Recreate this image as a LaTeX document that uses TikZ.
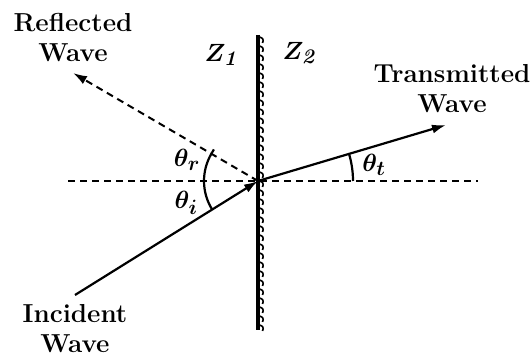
\documentclass[tikz,border=0pt]{standalone}
\usepackage{amsmath,bm}
\usetikzlibrary{arrows.meta}
\begin{document}
\begin{tikzpicture}[x=1pt,y=1pt,
  lbl/.style={font=\fontsize{26}{30}\selectfont\bfseries, align=center, inner sep=0pt},
  mlbl/.style={font=\fontsize{28}{32}\selectfont\boldmath, inner sep=0pt},
  ray/.style={line width=2.2pt, -{Latex[length=14pt,width=9pt]}},
  dray/.style={line width=2pt, dash pattern=on 7pt off 5pt},
  anglearc/.style={line width=2.2pt}]
\useasboundingbox (0,0) rectangle (532,358);
% key points
\coordinate (O) at (258,177);
\coordinate (wt) at (258,323);
\coordinate (wb) at (258,28);
\coordinate (hl) at (68,177);
\coordinate (hr) at (478,177);
\coordinate (inc) at (75,63);
\coordinate (refl) at (73,285);
\coordinate (trans) at (446,233);
% horizontal dashed normal
\draw[dray] (hl) -- (hr);
% wall
\draw[line width=3.5pt] (wt) -- (wb);
\foreach \y in {321,312,...,32} {
  \draw[line width=1.6pt] (259.5,\y) .. controls (263,\y-1) and (264,\y-3) .. (262.5,\y-6);
}
% rays
\draw[ray] (inc) -- (O);
\draw[ray, dray] (O) -- (refl);
\draw[ray] (O) -- (trans);
% angle arcs
\draw[anglearc] ([shift={(149.7:54)}]O) arc[start angle=149.7, end angle=211.9, radius=54];
\draw[anglearc] ([shift={(149.7:54)}]O) -- ++(59.7:5) ;
\draw[anglearc] ([shift={(0:95)}]O) arc[start angle=0, end angle=16.6, radius=95];
% angle labels
\node[mlbl] (tr) at (187,198) {$\theta_r$};
\node[mlbl] (ti) at (186,155) {$\theta_i$};
\node[mlbl] (tt) at (374,193) {$\theta_t$};
\node[mlbl] (z1) at (222,303) {$Z_{\mathit{1}}$};
\node[mlbl] (z2) at (300,305) {$Z_{\mathit{2}}$};
% text labels
\node[lbl] (lr) at (73,320) {Reflected\\Wave};
\node[lbl] (lt) at (452,269) {Transmitted\\Wave};
\node[lbl] (li) at (75,29) {Incident\\Wave};
\end{tikzpicture}
\end{document}
